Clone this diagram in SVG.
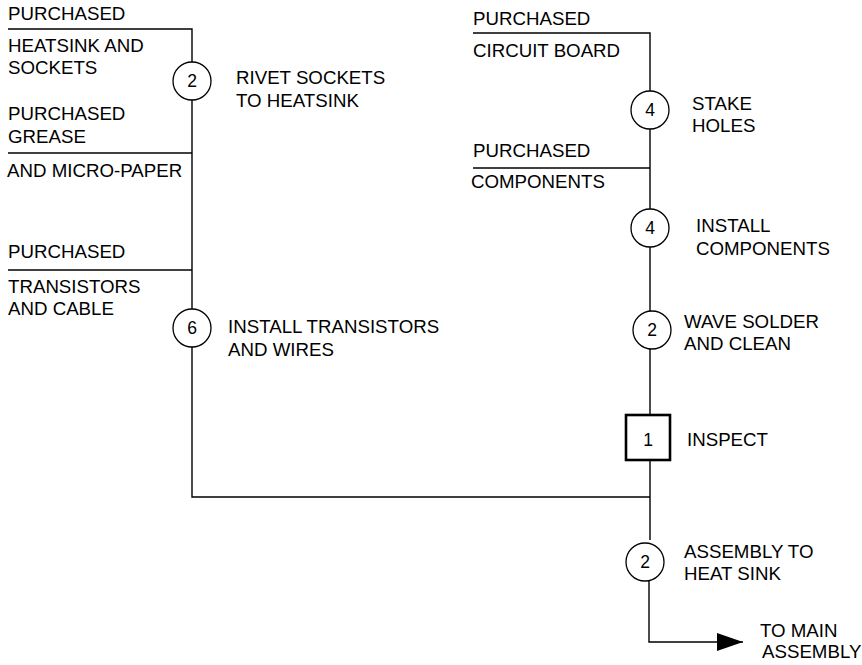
<svg xmlns="http://www.w3.org/2000/svg" width="862" height="665" viewBox="0 0 862 665">
  <style>
    .ln { fill: none; stroke: #000; stroke-width: 1.4; }
    .op { fill: #fff; stroke: #000; stroke-width: 1.3; }
    .box { fill: #fff; stroke: #000; stroke-width: 2.6; }
    text { font-family: "Liberation Sans", Arial, sans-serif; font-size: 18.7px; fill: #000; }
    .num { text-anchor: middle; font-size: 17.5px; }
  </style>
  <defs>
    <marker id="arrow" viewBox="0 0 26 18" refX="26" refY="9" markerWidth="26" markerHeight="18" markerUnits="userSpaceOnUse" orient="auto">
      <path d="M0,0 L26,9 L0,18 Z" fill="#000"/>
    </marker>
  </defs>
  <rect width="862" height="665" fill="#fff"/>

  <!-- flow lines -->
  <g id="connectors">
    <!-- left branch: heatsink subassembly -->
    <polyline class="ln" points="8,29 192,29 192,497 650,497"/>
    <line class="ln" x1="8" y1="153" x2="192" y2="153"/>
    <line class="ln" x1="8" y1="270" x2="192" y2="270"/>
    <!-- right branch: circuit board -->
    <polyline class="ln" points="473,33 650,33 650,540"/>
    <line class="ln" x1="473" y1="168" x2="650" y2="168"/>
    <!-- output to main assembly -->
    <polyline class="ln" points="649,560 649,642 743,642" marker-end="url(#arrow)"/>
  </g>

  <!-- material inputs -->
  <g id="in-heatsink">
    <text x="8" y="20">PURCHASED</text>
    <text x="8" y="52">HEATSINK AND</text>
    <text x="8" y="74">SOCKETS</text>
  </g>
  <g id="in-grease">
    <text x="8" y="120">PURCHASED</text>
    <text x="8" y="143">GREASE</text>
    <text x="7" y="177">AND MICRO-PAPER</text>
  </g>
  <g id="in-transistors">
    <text x="8" y="258">PURCHASED</text>
    <text x="8" y="293">TRANSISTORS</text>
    <text x="8" y="315">AND CABLE</text>
  </g>
  <g id="in-board">
    <text x="473" y="25">PURCHASED</text>
    <text x="473" y="57">CIRCUIT BOARD</text>
  </g>
  <g id="in-components">
    <text x="473" y="157">PURCHASED</text>
    <text x="471" y="188">COMPONENTS</text>
  </g>

  <!-- operations -->
  <g id="op-rivet">
    <circle class="op" cx="192" cy="81" r="19"/>
    <text class="num" x="192" y="87">2</text>
    <text x="236" y="84">RIVET SOCKETS</text>
    <text x="236" y="107">TO HEATSINK</text>
  </g>
  <g id="op-install-transistors">
    <circle class="op" cx="192" cy="328" r="19"/>
    <text class="num" x="192" y="334">6</text>
    <text x="228" y="333">INSTALL TRANSISTORS</text>
    <text x="228" y="356">AND WIRES</text>
  </g>
  <g id="op-stake">
    <circle class="op" cx="650" cy="110" r="19"/>
    <text class="num" x="650" y="116">4</text>
    <text x="692" y="110">STAKE</text>
    <text x="692" y="132">HOLES</text>
  </g>
  <g id="op-install-components">
    <circle class="op" cx="650" cy="228" r="19"/>
    <text class="num" x="650" y="234">4</text>
    <text x="696" y="232">INSTALL</text>
    <text x="696" y="255">COMPONENTS</text>
  </g>
  <g id="op-wave-solder">
    <circle class="op" cx="652" cy="330" r="19"/>
    <text class="num" x="652" y="336">2</text>
    <text x="684" y="328">WAVE SOLDER</text>
    <text x="684" y="350">AND CLEAN</text>
  </g>
  <g id="op-inspect">
    <rect class="box" x="626" y="415" width="44" height="45"/>
    <text class="num" x="648" y="446">1</text>
    <text x="687" y="446">INSPECT</text>
  </g>
  <g id="op-assembly">
    <circle class="op" cx="645" cy="562" r="19"/>
    <text class="num" x="645" y="568">2</text>
    <text x="684" y="558">ASSEMBLY TO</text>
    <text x="684" y="580">HEAT SINK</text>
  </g>
  <g id="out-main">
    <text x="760" y="637">TO MAIN</text>
    <text x="762" y="658">ASSEMBLY</text>
  </g>
</svg>
